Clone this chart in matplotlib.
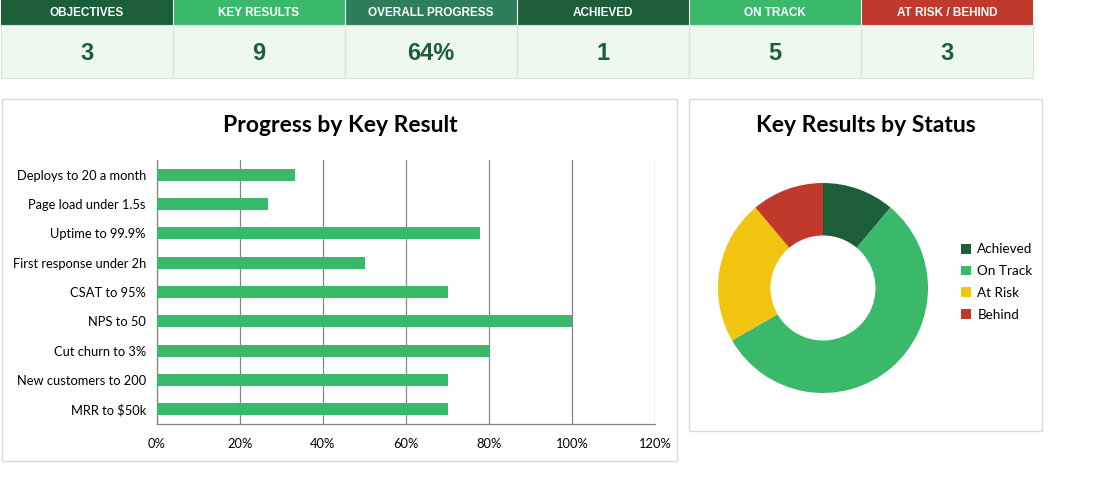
import matplotlib
matplotlib.use('Agg')
import matplotlib.pyplot as plt
from matplotlib.patches import Rectangle
from matplotlib.ticker import PercentFormatter

# KPI strip
kpi_labels = ['OBJECTIVES', 'KEY RESULTS', 'OVERALL PROGRESS', 'ACHIEVED', 'ON TRACK', 'AT RISK / BEHIND']
kpi_values = ['3', '9', '64%', '1', '5', '3']
kpi_colors = ['#1B5E37', '#3BB96B', '#2E7D5B', '#1B5E37', '#3BB96B', '#C0392B']

# bar chart
key_results = ['Deploys to 20 a month', 'Page load under 1.5s', 'Uptime to 99.9%',
               'First response under 2h', 'CSAT to 95%', 'NPS to 50',
               'Cut churn to 3%', 'New customers to 200', 'MRR to $50k']
progress = [33.3, 26.7, 77.8, 50, 70, 100, 80, 70, 70]

# donut
statuses = ['Achieved', 'On Track', 'At Risk', 'Behind']
status_counts = [1, 5, 2, 1]
status_colors = ['#1B5E37', '#3BB96B', '#F1C40F', '#C0392B']

W, H = 1120, 482
fig = plt.figure(figsize=(W / 100, H / 100), dpi=100)
fig.patch.set_facecolor('white')


def px_axes(x0, y0, x1, y1):
    return fig.add_axes([x0 / W, 1 - y1 / H, (x1 - x0) / W, (y1 - y0) / H])


arial = ['Liberation Sans', 'DejaVu Sans']
calib = ['Lato', 'DejaVu Sans']

# background layer in pixel coords
bg = fig.add_axes([0, 0, 1, 1])
bg.set_xlim(0, W)
bg.set_ylim(H, 0)
bg.axis('off')

cell_w = 172
for i, (lab, val, col) in enumerate(zip(kpi_labels, kpi_values, kpi_colors)):
    x = 1 + i * cell_w
    bg.add_patch(Rectangle((x, 0), cell_w, 25, facecolor=col, edgecolor='none'))
    bg.add_patch(Rectangle((x, 25), cell_w, 53, facecolor='#EEF8F0', edgecolor='#D5E3D9', lw=0.8))
    if i > 0:
        bg.plot([x, x], [0, 25], color='white', lw=0.8)
    bg.text(x + cell_w / 2, 13, lab, color='white', ha='center', va='center',
            fontsize=8.5, fontweight='bold', family=arial)
    bg.text(x + cell_w / 2, 53, val, color='#1B5E37', ha='center', va='center',
            fontsize=17, fontweight='bold', family=arial)

# panels
bg.add_patch(Rectangle((2, 99), 675, 362, facecolor='white', edgecolor='#D9D9D9', lw=1))
bg.add_patch(Rectangle((689, 99), 353, 332, facecolor='white', edgecolor='#D9D9D9', lw=1))
bg.text(340, 126, 'Progress by Key Result', ha='center', va='center',
        fontsize=16.5, fontweight='bold', family=calib)
bg.text(866, 126, 'Key Results by Status', ha='center', va='center',
        fontsize=16.5, fontweight='bold', family=calib)

# bar chart
ax = px_axes(157, 160, 655, 424)
y = range(len(key_results))
ax.barh(y, progress, height=0.42, color='#3BB96B', zorder=3)
ax.set_ylim(len(key_results) - 0.5, -0.5)
ax.set_xlim(0, 120)
ax.set_xticks(range(0, 121, 20))
ax.xaxis.set_major_formatter(PercentFormatter(decimals=0))
ax.set_yticks(list(y))
ax.set_yticklabels(key_results)
ax.grid(axis='x', color='#868686', lw=0.9, zorder=0)
for s in ['top', 'right']:
    ax.spines[s].set_visible(False)
for s in ['left', 'bottom']:
    ax.spines[s].set_color('#868686')
    ax.spines[s].set_linewidth(0.9)
ax.tick_params(length=0, labelsize=9.3, colors='#000000')
ax.tick_params(axis='x', pad=10)
ax.tick_params(axis='y', pad=8)
for t in ax.get_xticklabels() + ax.get_yticklabels():
    t.set_family(calib)

# donut
ax2 = px_axes(718, 183, 928, 393)
ax2.pie(status_counts, colors=status_colors, startangle=90, counterclock=False,
        radius=1, wedgeprops=dict(width=0.5, edgecolor='none'))
ax2.set_xlim(-1, 1)
ax2.set_ylim(-1, 1)
ax2.set_aspect('equal')
ax2.axis('off')

handles = [Rectangle((0, 0), 1, 1, facecolor=c) for c in status_colors]
fig.legend(handles, statuses, loc='center left', bbox_to_anchor=(949 / W, 1 - 282 / H),
           frameon=False, prop={'family': calib, 'size': 9.7}, handlelength=0.75,
           handleheight=0.75, handletextpad=0.45, labelspacing=0.72)

fig.savefig('out.png', dpi=100, facecolor='white')
